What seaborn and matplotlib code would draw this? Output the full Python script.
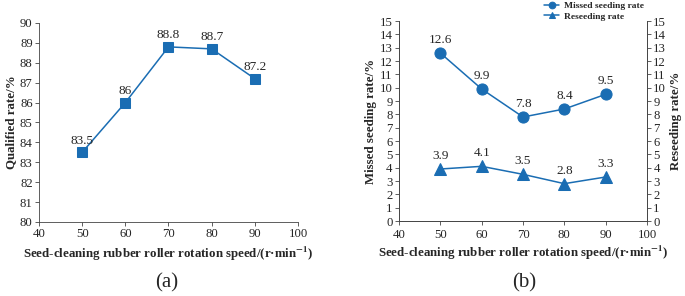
import matplotlib
matplotlib.use("Agg")
import matplotlib.pyplot as plt
import seaborn as sns
import pandas as pd

speeds = [50, 60, 70, 80, 90]
qualified = [83.5, 86, 88.8, 88.7, 87.2]
missed = [12.6, 9.9, 7.8, 8.4, 9.5]
reseeding = [3.9, 4.1, 3.5, 2.8, 3.3]
qual_labels = ["83.5", "86", "88.8", "88.7", "87.2"]
missed_labels = ["12.6", "9.9", "7.8", "8.4", "9.5"]
reseed_labels = ["3.9", "4.1", "3.5", "2.8", "3.3"]

sns.set_theme(style="ticks")
plt.rcParams["font.family"] = ["Liberation Serif", "DejaVu Serif"]
plt.rcParams["mathtext.fontset"] = "stix"

BLUE = "#1a6db3"
W, H = 685, 296
fig = plt.figure(figsize=(W / 100, H / 100), dpi=100)

def rect(l, t, r, b):
    return [l / W, 1 - b / H, (r - l) / W, (b - t) / H]

tick_fs = 9.2
lab_fs = 9.3
ann_fs = 9.5
XLAB = "Seed-cleaning rubber roller rotation speed/(r·min$^{\\mathbf{-1}}$)"

# (a)
axa = fig.add_axes(rect(39, 23, 298, 222))
df_a = pd.DataFrame({"speed": speeds, "q": qualified})
sns.lineplot(data=df_a, x="speed", y="q", ax=axa, color=BLUE, marker="s",
             markersize=7, markeredgecolor=BLUE, linewidth=1.1)
for x, y, t in zip(speeds, qualified, qual_labels):
    axa.annotate(t, (x, y), xytext=(0, 4), textcoords="offset points",
                 ha="center", va="bottom", fontsize=ann_fs)
axa.set_xlim(40, 100)
axa.set_ylim(80, 90)
axa.set_xticks(range(40, 101, 10))
axa.set_yticks(range(80, 91, 1))
axa.set_xlabel(XLAB, fontsize=lab_fs, fontweight="bold", labelpad=3)
axa.set_ylabel("Qualified rate/%", fontsize=lab_fs, fontweight="bold", labelpad=2)
for s in ["top", "right"]:
    axa.spines[s].set_visible(False)
axa.tick_params(labelsize=tick_fs, length=3, width=0.6, pad=1.5, color="#444444")
for s in ["left", "bottom"]:
    axa.spines[s].set_linewidth(0.6)
    axa.spines[s].set_color("#444444")
fig.text(167 / W, 1 - 283 / H, "(a)", ha="center", va="center", fontsize=15)

# (b)
axb = fig.add_axes(rect(399, 21, 647, 221))
axr = axb.twinx()
df_b = pd.DataFrame({"speed": speeds, "m": missed, "r": reseeding})
sns.lineplot(data=df_b, x="speed", y="m", ax=axb, color=BLUE, marker="o",
             markersize=8, markeredgecolor=BLUE, linewidth=1.1, label="Missed seeding rate",
             legend=False)
sns.lineplot(data=df_b, x="speed", y="r", ax=axr, color=BLUE, marker="^",
             markersize=8, markeredgecolor=BLUE, linewidth=1.1, label="Reseeding rate",
             legend=False)
for x, y, t in zip(speeds, missed, missed_labels):
    axb.annotate(t, (x, y), xytext=(0, 5), textcoords="offset points",
                 ha="center", va="bottom", fontsize=ann_fs)
for x, y, t in zip(speeds, reseeding, reseed_labels):
    axr.annotate(t, (x, y), xytext=(0, 5), textcoords="offset points",
                 ha="center", va="bottom", fontsize=ann_fs)
for ax in (axb, axr):
    ax.set_xlim(40, 100)
    ax.set_ylim(0, 15)
    ax.set_yticks(range(0, 16, 1))
    ax.tick_params(labelsize=tick_fs, length=3, width=0.6, pad=1.5, color="#444444")
    ax.spines["top"].set_visible(False)
    for s in ["left", "bottom", "right"]:
        ax.spines[s].set_linewidth(0.6)
        ax.spines[s].set_color("#444444")
axb.set_xticks(range(40, 101, 10))
axb.tick_params(axis="x", pad=3)
axb.set_xlabel(XLAB, fontsize=lab_fs, fontweight="bold", labelpad=2)
axb.set_ylabel("Missed seeding rate/%", fontsize=lab_fs, fontweight="bold", labelpad=2)
axr.set_ylabel("Reseeding rate/%", fontsize=lab_fs, fontweight="bold", labelpad=3)
h1, l1 = axb.get_legend_handles_labels()
h2, l2 = axr.get_legend_handles_labels()
fig.legend(h1 + h2, l1 + l2, loc="upper right", bbox_to_anchor=(645 / W, 1 - 0.5 / H),
           frameon=False, prop={"weight": "bold", "size": 6.8},
           handlelength=1.6, markerscale=0.6, borderpad=0.1, borderaxespad=0,
           labelspacing=0.2, handletextpad=0.5)
fig.text(524 / W, 1 - 283 / H, "(b)", ha="center", va="center", fontsize=15)

fig.savefig("out.png", dpi=100)
